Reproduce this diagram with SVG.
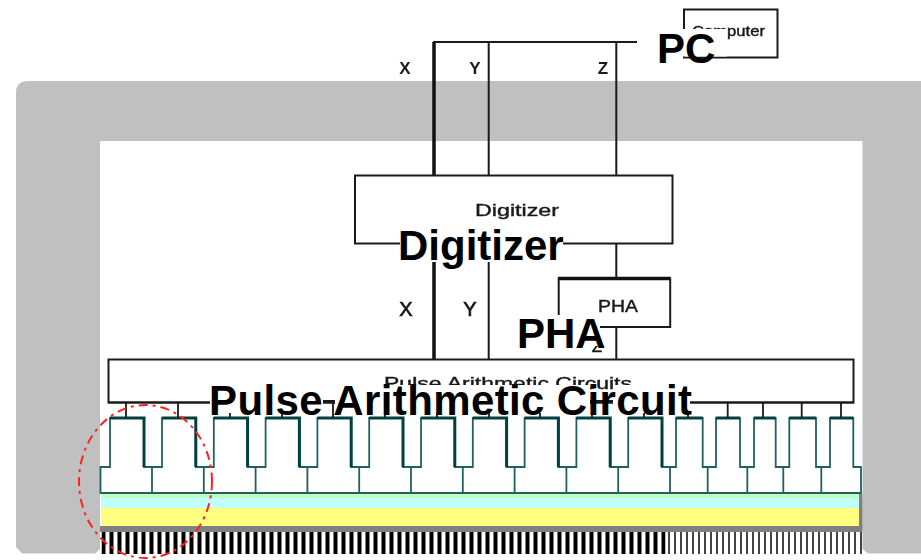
<svg xmlns="http://www.w3.org/2000/svg" width="921" height="560" viewBox="0 0 921 560">
  <style>
    .box { fill: #fff; stroke: #1a1a1a; stroke-width: 2; }
    .small { font-family: "Liberation Sans", Arial, sans-serif; font-size: 17px; fill: #1a1a1a; stroke: #1a1a1a; stroke-width: 0.4; filter: url(#soft); }
    .tag { font-size: 17px; font-weight: 700; stroke: none; }
    .tag-large { font-size: 20px; stroke-width: 0.7; }
    .big { font-family: "Liberation Sans", Arial, sans-serif; font-size: 42px; font-weight: 700; fill: #000; }
    .patch { fill: #fff; stroke: none; }
    .wire { fill: none; stroke: #1a1a1a; stroke-width: 2; }
    .wire-thick { fill: none; stroke: #111; stroke-width: 3.5; }
    .stub { fill: none; stroke: #1a1a1a; stroke-width: 1.8; }
  </style>
  <defs>
    <filter id="soft" x="-5%" y="-20%" width="110%" height="140%"><feGaussianBlur stdDeviation="0.4"/></filter>
    <pattern id="thickStripes" x="101.5" y="0" width="8" height="10" patternUnits="userSpaceOnUse"><rect width="4" height="10" fill="#000"/></pattern>
    <pattern id="thinStripes" x="668" y="0" width="6" height="10" patternUnits="userSpaceOnUse"><rect width="2" height="10" fill="#444"/></pattern>
  </defs>
  <rect width="921" height="560" fill="#fff"/>

  <g id="frame">
    <path fill="#c0c0c0" fill-rule="evenodd" d="M28 81H921V553.500H868L862.500 549V141H100V549L95 553.500H22L16 547V93Q16 81 28 81Z"/>
  </g>

  <g id="sensor-layers">
    <rect x="101" y="494" width="758" height="4" fill="#c0ffc0"/>
    <rect x="101" y="498" width="758" height="10" fill="#c0ffff"/>
    <rect x="101" y="508" width="758" height="18" fill="#ffff80"/>
    <rect x="100" y="526" width="762.500" height="6" fill="#808080"/>
    <rect x="859" y="494" width="3.500" height="34" fill="#808080"/>
    <rect x="101.500" y="532" width="564" height="22" fill="url(#thickStripes)"/>
    <rect x="668" y="532" width="194" height="22" fill="url(#thinStripes)"/>
  </g>

  <g id="comb">
    <path fill="none" stroke="#206060" stroke-width="1.800" d="M100.500 493V467H110V418H144V467H162V418H195.800V467H213.800V418H247.600V467H265.600V418H299.400V467H317.400V418H351.200V467H369.200V418H403V467H421V418H454.800V467H472.800V418H506.600V467H524.600V418H558.400V467H576.400V418H610.200V467H628.200V418H662V467H676V418H702.700V467H716V418H740V467H754V418H775.700V467H789.300V418H816V467H830V418H853.300V467H861V493Z"/>
    <path fill="none" stroke="#206060" stroke-width="1.800" d="M152 467V493M203.800 467V493M255.600 467V493M307.400 467V493M359.200 467V493M411 467V493M462.800 467V493M514.600 467V493M566.400 467V493M618.200 467V493M670 467V493M707.700 467V493M747.300 467V493M783.300 467V493M821.300 467V493"/>
    <path fill="none" stroke="#004040" stroke-width="3" d="M110 418H144V467M162 418H195.800V467M213.800 418H247.600V467M265.600 418H299.400V467M317.400 418H351.200V467M369.200 418H403V467M421 418H454.800V467M472.800 418H506.600V467M524.600 418H558.400V467M576.400 418H610.200V467M628.200 418H662V467M676 418H702.700M716 418H740M754 418H775.700M789.300 418H816M830 418H853.300"/>
  </g>

  <g id="connectors">
    <path class="wire-thick" d="M434 42V175M434 243V359"/>
    <path class="wire" d="M433 42H637M488.700 42V175M488.700 243V359M616.300 42V175M616.300 243V278M616.300 327V359"/>
    <path class="stub" d="M126 403V418M178 403V418M230 403V418M282 403V418M333 401V418M385 403V418M437 403V418M489 403V418M540 403V418M592 401V418M644 403V418M688 403V418M727.700 403V418M763 403V418M801.700 403V418M841 403V418"/>
  </g>

  <g id="wire-labels">
    <text class="small tag" x="405" y="74" text-anchor="middle">X</text>
    <text class="small tag" x="475" y="74" text-anchor="middle">Y</text>
    <text class="small tag" x="603" y="74" text-anchor="middle">Z</text>
    <text class="small tag-large" x="406" y="316" text-anchor="middle">X</text>
    <text class="small tag-large" x="470" y="316" text-anchor="middle">Y</text>
    <text class="small" x="597" y="352" text-anchor="middle">Z</text>
  </g>

  <g id="computer">
    <rect class="box" x="684" y="9.500" width="93.500" height="48"/>
    <text class="small" x="692" y="36" textLength="73" lengthAdjust="spacingAndGlyphs" style="font-size:14px">Computer</text>
    <rect class="patch" x="637" y="29" width="90" height="27.500"/>
    <text class="big" x="657" y="63">PC</text>
  </g>

  <g id="digitizer">
    <rect class="box" x="355" y="175.500" width="317.500" height="68"/>
    <text class="small" x="475" y="216" textLength="84" lengthAdjust="spacingAndGlyphs">Digitizer</text>
    <rect class="patch" x="400" y="226" width="163" height="36"/>
    <text class="big" x="398" y="260">Digitizer</text>
  </g>

  <g id="pha">
    <rect class="box" x="558.700" y="278.500" width="111.500" height="48.500"/>
    <path class="wire-thick" d="M558 278.500H670.500"/>
    <text class="small" x="598" y="311.500" textLength="40" lengthAdjust="spacingAndGlyphs" style="font-size:16px">PHA</text>
    <rect class="patch" x="518" y="315" width="82" height="31"/>
    <text class="big" x="517" y="348">PHA</text>
  </g>

  <g id="pulse-arithmetic">
    <rect class="box" x="108.500" y="359.500" width="745" height="43"/>
    <path fill="none" stroke="#1a1a1a" stroke-width="2" d="M108 402.500H854M323 401H335M590 401H613"/>
    <text class="small" x="384" y="389" textLength="248" lengthAdjust="spacingAndGlyphs">Pulse Arithmetic Circuits</text>
    <path class="patch" d="M210 385H323V413H210ZM335 385H590V413H335ZM613 385H690V413H613Z"/>
    <text class="big" x="209" y="415" textLength="483">Pulse Arithmetic Circuit</text>
  </g>

  <g id="highlight">
    <ellipse cx="145.500" cy="481.500" rx="66.500" ry="76.500" fill="none" stroke="#ff2020" stroke-width="2" stroke-dasharray="9 5 3 5"/>
  </g>
</svg>
